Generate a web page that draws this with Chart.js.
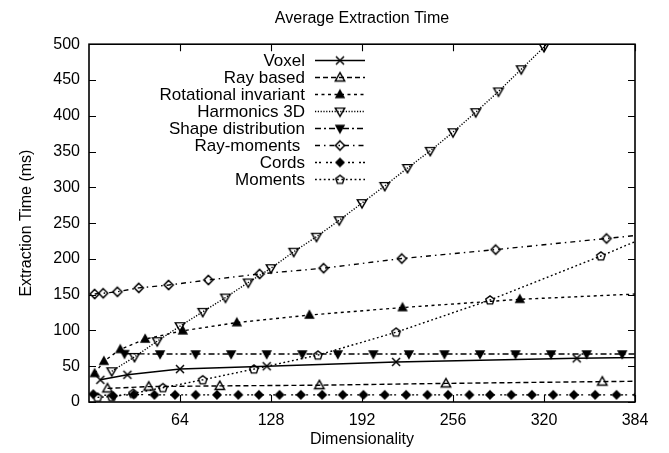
<!DOCTYPE html>
<html>
<head>
<meta charset="utf-8">
<script src="https://cdn.jsdelivr.net/npm/chart.js@4/dist/chart.umd.min.js"></script>
<style>
html,body{margin:0;padding:0;background:#fff;}
#wrap{width:669px;height:453px;}
</style>
</head>
<body>
<div id="wrap"><canvas id="c" width="669" height="453"></canvas></div>
<script>
// ---------------- data ----------------
const chartTitle = 'Average Extraction Time';
const xTitle = 'Dimensionality';
const yTitle = 'Extraction Time (ms)';
const xTickValues = [64, 128, 192, 256, 320, 384];
const yTickValues = [0, 50, 100, 150, 200, 250, 300, 350, 400, 450, 500];

const seriesNames = ['Voxel', 'Ray based', 'Rotational invariant', 'Harmonics 3D',
                     'Shape distribution', 'Ray-moments ', 'Cords', 'Moments'];

const voxelDims  = [8, 27, 64, 125, 216, 343, 512];
const voxelTimes = [31, 38, 46, 50, 56, 61, 66];

const rayBasedDims  = [13, 42, 92, 162, 251, 361, 492];
const rayBasedTimes = [19, 21.5, 22.5, 23.5, 26, 28.5, 31];

const rotInvDims  = [4, 10.5, 22, 39.5, 66, 104, 155, 220.5, 303, 408];
const rotInvTimes = [40, 57, 73.5, 88, 99.5, 111, 121.5, 132, 143.5, 153];

const harmonicsDims  = [16, 32, 48, 64, 80, 96, 112, 128, 144, 160, 176, 192, 208, 224, 240, 256, 272, 288, 304, 320, 336];
const harmonicsTimes = [43, 63, 85, 106, 126, 146, 167, 187, 210, 231, 254, 278, 302, 327, 351, 377, 405, 434, 465, 496, 528];

const shapeDims  = [25, 50, 75, 100, 125, 150, 175, 200, 225, 250, 275, 300, 325, 350, 375, 400];
const shapeTimes = [67.5, 67, 67, 67, 67, 67, 67, 67, 67, 67, 67, 67, 67, 67, 67, 67];

const rayMomentsDims  = [4, 10, 20, 35, 56, 84, 120, 165, 220, 286, 364, 455];
const rayMomentsTimes = [151, 152, 154, 159.5, 163.5, 170.5, 179, 187, 200.5, 213, 228.5, 247];

const cordsDims  = [3, 17, 31.5, 46, 60.5, 75, 90, 105, 119.5, 134, 149, 164, 178.5, 193, 208, 223, 238, 252.5, 267.5, 282, 297, 311.5, 326.5, 341, 356, 371, 386];
const cordsTimes = [11, 8.5, 10.5, 10, 10, 10, 10, 10, 10, 10, 10, 10, 10, 10, 10, 10, 10, 10, 10, 10, 10, 10, 10, 10, 10, 10, 10];

const momentsDims  = [6, 16, 31, 52, 80, 116, 161, 216, 282, 360, 451];
const momentsTimes = [6.5, 7.5, 12, 20, 31, 46, 65.5, 97.5, 142.5, 204, 280];

// ---------------- styling ----------------
const FONT = '"Liberation Sans", Arial, Helvetica, sans-serif';
const FSIZE = 16;
const KEY_FSIZE = 17;

function makeMarker(kind) {
  const s = 14;
  const c = document.createElement('canvas');
  c.width = s; c.height = s;
  const g = c.getContext('2d');
  g.translate(s / 2, s / 2);
  g.strokeStyle = '#000'; g.fillStyle = '#000'; g.lineWidth = 1.45;
  g.lineJoin = 'miter';
  const poly = (pts, fill) => {
    g.beginPath();
    pts.forEach((p, i) => i ? g.lineTo(p[0], p[1]) : g.moveTo(p[0], p[1]));
    g.closePath();
    if (fill) g.fill();
    g.stroke();
  };
  switch (kind) {
    case 'cross':
      g.lineWidth = 1.5;
      g.beginPath(); g.moveTo(-4, -4); g.lineTo(4, 4); g.moveTo(4, -4); g.lineTo(-4, 4); g.stroke();
      break;
    case 'triUp':       poly([[0, -4.8], [4.7, 3.4], [-4.7, 3.4]], false); break;
    case 'triUpFill':   poly([[0, -4.2], [4, 3], [-4, 3]], true); break;
    case 'triDown':     poly([[0, 4.8], [4.7, -3.4], [-4.7, -3.4]], false); break;
    case 'triDownFill': poly([[0, 4.2], [4, -3], [-4, -3]], true); break;
    case 'diamond':     poly([[0, -4.6], [4.6, 0], [0, 4.6], [-4.6, 0]], false); break;
    case 'diamondFill': poly([[0, -4], [4, 0], [0, 4], [-4, 0]], true); break;
    case 'pentagon': {
      const pts = [];
      for (let i = 0; i < 5; i++) {
        const a = -Math.PI / 2 + i * 2 * Math.PI / 5;
        pts.push([4.4 * Math.cos(a), 4.4 * Math.sin(a) + 0.3]);
      }
      poly(pts, false);
      break;
    }
  }
  return c;
}

const seriesData = [
  [voxelDims, voxelTimes],
  [rayBasedDims, rayBasedTimes],
  [rotInvDims, rotInvTimes],
  [harmonicsDims, harmonicsTimes],
  [shapeDims, shapeTimes],
  [rayMomentsDims, rayMomentsTimes],
  [cordsDims, cordsTimes],
  [momentsDims, momentsTimes]
];
const seriesMarkers = ['cross', 'triUp', 'triUpFill', 'triDown', 'triDownFill', 'diamond', 'diamondFill', 'pentagon'];
const seriesDash = [[], [5, 3], [3, 3.5], [1.2, 1.6], [6, 3, 2, 3], [5, 4, 1.5, 4], [2, 2, 2, 5], [1.8, 2.6]];

const datasets = seriesNames.map((name, i) => {
  const [xs, ys] = seriesData[i];
  return {
    label: name,
    data: xs.map((x, k) => ({x: x, y: ys[k]})),
    borderColor: '#000',
    backgroundColor: '#000',
    borderWidth: i === 0 ? 1.5 : 1.4,
    borderDash: seriesDash[i],
    pointStyle: makeMarker(seriesMarkers[i]),
    pointRadius: 4,
    pointHoverRadius: 4,
    tension: 0,
    fill: false
  };
});

// frame with inward ticks on all four sides (gnuplot style)
const framePlugin = {
  id: 'frame',
  afterDraw(chart) {
    const {ctx, chartArea: a, scales} = chart;
    ctx.save();
    ctx.strokeStyle = '#000';
    ctx.lineWidth = 1.1;
    const L = 7;
    ctx.beginPath();
    xTickValues.forEach(v => {
      const px = Math.round(scales.x.getPixelForValue(v)) + 0.5;
      ctx.moveTo(px, a.bottom); ctx.lineTo(px, a.bottom - L);
      ctx.moveTo(px, a.top); ctx.lineTo(px, a.top + L);
    });
    yTickValues.forEach(v => {
      const py = Math.round(scales.y.getPixelForValue(v)) + 0.5;
      ctx.moveTo(a.left, py); ctx.lineTo(a.left + L, py);
      ctx.moveTo(a.right, py); ctx.lineTo(a.right - L, py);
    });
    ctx.stroke();
    ctx.lineWidth = 1.6;
    ctx.strokeRect(a.left, a.top, a.right - a.left, a.bottom - a.top);
    ctx.restore();
  }
};

// gnuplot style key: right-aligned text, then line sample with centred marker
const keyPlugin = {
  id: 'gkey',
  afterDraw(chart) {
    const ctx = chart.ctx;
    const textRight = 305, lineStart = 315, lineEnd = 365, rowTop = 60.5, rowStep = 17;
    ctx.save();
    ctx.font = KEY_FSIZE + 'px ' + FONT;
    ctx.fillStyle = '#000';
    ctx.textAlign = 'right';
    ctx.textBaseline = 'middle';
    chart.data.datasets.forEach((ds, i) => {
      const y = rowTop + i * rowStep;
      ctx.fillText(ds.label, textRight, y + 1);
      ctx.beginPath();
      ctx.setLineDash(ds.borderDash);
      ctx.lineWidth = ds.borderWidth;
      ctx.strokeStyle = '#000';
      ctx.moveTo(lineStart, y); ctx.lineTo(lineEnd, y);
      ctx.stroke();
      ctx.setLineDash([]);
      const img = ds.pointStyle;
      ctx.drawImage(img, (lineStart + lineEnd) / 2 - img.width / 2, y - img.height / 2);
    });
    ctx.restore();
  }
};

new Chart(document.getElementById('c'), {
  type: 'line',
  data: {datasets: datasets},
  plugins: [framePlugin, keyPlugin],
  options: {
    responsive: false,
    animation: false,
    devicePixelRatio: 1,
    layout: {padding: {left: 0, right: 34, top: 0, bottom: 0}},
    plugins: {
      legend: {display: false},
      tooltip: {enabled: false},
      title: {
        display: true,
        text: chartTitle,
        color: '#000',
        fullSize: false,
        font: {family: FONT, size: FSIZE, weight: 'normal'},
        padding: {top: 9, bottom: 16}
      }
    },
    scales: {
      x: {
        type: 'linear',
        position: 'bottom',
        min: 0, max: 384,
        afterBuildTicks(scale) { scale.ticks = [0].concat(xTickValues).map(v => ({value: v})); },
        afterFit(scale) { scale.height = 51; },
        grid: {display: false, drawTicks: false},
        border: {display: false},
        ticks: {
          color: '#000', padding: 9, maxRotation: 0, autoSkip: false,
          font: {family: FONT, size: FSIZE},
          callback: v => (v === 0 ? '' : String(v))
        },
        title: {
          display: true, text: xTitle, color: '#000',
          font: {family: FONT, size: FSIZE},
          padding: {top: 0, bottom: 4}
        }
      },
      y: {
        type: 'linear',
        min: 0, max: 500,
        afterBuildTicks(scale) { scale.ticks = yTickValues.map(v => ({value: v})); },
        afterFit(scale) { scale.width = 89; },
        grid: {display: false, drawTicks: false},
        border: {display: false},
        ticks: {
          color: '#000', padding: 9, autoSkip: false,
          font: {family: FONT, size: FSIZE}
        },
        title: {
          display: true, text: yTitle, color: '#000',
          font: {family: FONT, size: FSIZE},
          padding: {top: 17, bottom: 0}
        }
      }
    }
  }
});
</script>
</body>
</html>
